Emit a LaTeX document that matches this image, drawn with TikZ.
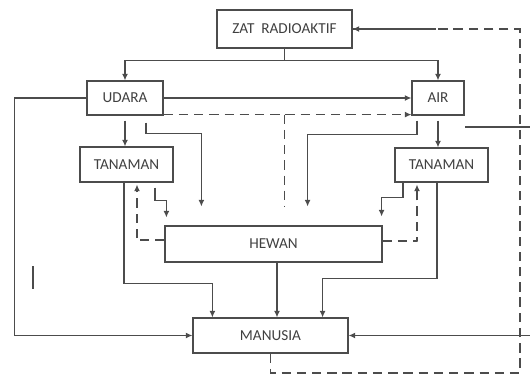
\documentclass[tikz,border=0pt]{standalone}
\usepackage{fontspec}
\setmainfont{Carlito}
\usetikzlibrary{arrows.meta,calc,positioning}
\tikzset{
  box/.style={
    draw=black!70,
    line width=1pt,
    fill=white,
    inner sep=0pt,
    text=black!75,
    font=\fontsize{13}{15}\selectfont
  },
  link/.style={
    draw=black!70,
    line width=1pt
  },
  flow/.style={
    link,
    -{Latex[length=5.5pt,width=5pt]}
  },
  dashlink/.style={
    link,
    dash pattern=on 8pt off 5pt
  },
  dashflow/.style={
    flow,
    dash pattern=on 8pt off 5pt
  }
}

\begin{document}
\begin{tikzpicture}[x=0.3mm, y=-0.3mm]
  \useasboundingbox (0,0) rectangle (530,378);

  % Boxes, placed at pixel positions of the scheme
  \node[box, minimum width=135*0.3mm, minimum height=38*0.3mm] (ZAT) at (284.5,29) {ZAT\ \ RADIOAKTIF};
  \node[box, minimum width=76*0.3mm, minimum height=34*0.3mm] (UDARA) at (125,98) {UDARA};
  \node[box, minimum width=52*0.3mm, minimum height=34*0.3mm] (AIR) at (438,98) {AIR};
  \node[box, minimum width=93*0.3mm, minimum height=35*0.3mm] (TANL) at (126.5,164.5) {TANAMAN};
  \node[box, minimum width=93*0.3mm, minimum height=34*0.3mm] (TANR) at (441.5,165) {TANAMAN};
  \node[box, minimum width=217*0.3mm, minimum height=36*0.3mm] (HEWAN) at (273.5,244) {HEWAN};
  \node[box, minimum width=155*0.3mm, minimum height=35*0.3mm] (MANUSIA) at (270.5,335.5) {MANUSIA};

  % Zat radioaktif to udara and air
  \draw[link] (ZAT.south) -- ++(0,12) coordinate (split);
  \draw[flow] (split) -| (UDARA.north);
  \draw[flow] (split) -| (AIR.north);

  % Udara
  \draw[flow] (UDARA.east) -- (AIR.west);
  \draw[dashflow] ([yshift=0.3mm]UDARA.south east) -- ([yshift=0.3mm]AIR.south west);
  \draw[dashlink] ([yshift=0.3mm]UDARA.south east -| ZAT.south) -- ++(0,92);
  \draw[flow, shorten <=5*0.3mm] (UDARA.south) -- (UDARA.south |- TANL.north);
  \draw[flow] ($(UDARA.south)+(21,7)$) -- ++(0,11) -| ($(HEWAN.north west)+(37,-19)$);
  \draw[flow] (UDARA.west) -- ++(-72,0) |- (MANUSIA.west);

  % Air
  \draw[flow, shorten <=5*0.3mm] (AIR.south) -- (AIR.south |- TANR.north);
  \draw[flow] ($(AIR.south)+(-21,5)$) -- ++(0,14) -| ($(HEWAN.north east)+(-75,-19)$);
  \coordinate (airout) at (465,127);
  \coordinate (edge) at (533,127);
  \draw[link] (airout) -- (edge);
  \draw[flow] (edge) |- (MANUSIA.east);

  % Tanaman (left) and hewan
  \draw[flow] ($(TANL.south)+(28.5,5)$) -- ++(0,13) -| ($(HEWAN.north west)+(2,-8)$);
  \draw[dashflow] ($(HEWAN.west)+(0,-4)$) -- ++(-28,0) -| ($(TANL.south)+(10.5,2)$);
  \draw[flow] ($(TANL.south)+(-2.5,0)$) -- ++(0,101) -| ($(MANUSIA.north west)+(20,0)$);

  % Tanaman (right) and hewan
  \draw[flow] ($(TANR.south)+(-38.5,0)$) -- ++(0,15) -| ($(HEWAN.north east)+(-1,-9)$);
  \draw[dashflow] ($(HEWAN.east)+(0,-3)$) -- ++(35,0) -| ($(TANR.south)+(-24.5,2)$);
  \draw[flow] ($(TANR.south)+(-4.5,0)$) -- ++(0,96) -| ($(MANUSIA.north east)+(-26,0)$);

  % Hewan to manusia
  \draw[flow] ($(HEWAN.south)+(3.5,0)$) -- ($(MANUSIA.north)+(6.5,0)$);

  % Feedback back to zat radioaktif
  \coordinate (loop) at (520,373);
  \draw[dashflow] (MANUSIA.south) |- (loop) |- (ZAT.east);
  \draw[link] (ZAT.east) -- ++(83,0);

  % stray mark
  \draw[link, line width=1.6pt] (33,266) -- (33,289);
\end{tikzpicture}
\end{document}
